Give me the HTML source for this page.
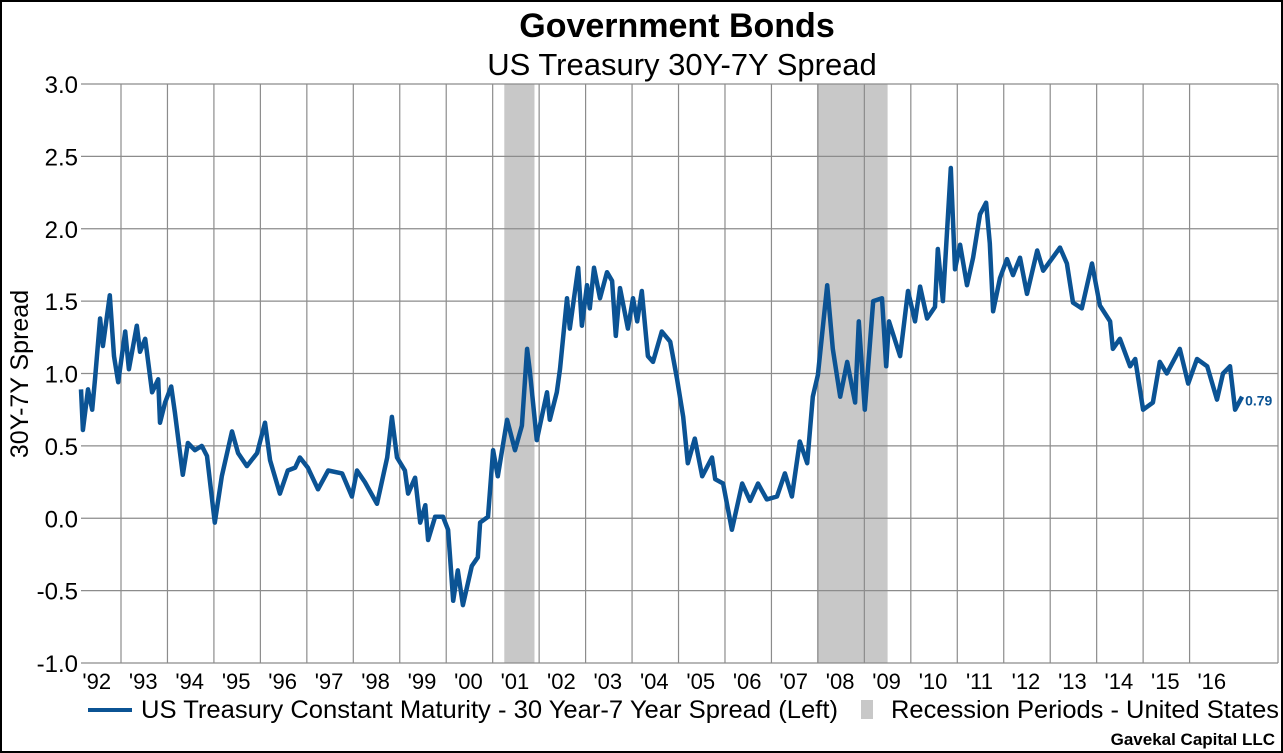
<!DOCTYPE html>
<html><head><meta charset="utf-8"><style>
html,body{margin:0;padding:0;background:#fff}
body{width:1283px;height:753px;overflow:hidden;position:relative;font-family:"Liberation Sans",Arial,sans-serif}
.frame{position:absolute;left:0;top:0;width:1279px;height:749px;border:2px solid #000}
</style></head><body>
<div class="frame"></div>
<svg id="chart" width="1283" height="753" style="position:absolute;left:0;top:0">
<text x="677" y="37" text-anchor="middle" font-size="34" font-weight="bold">Government Bonds</text>
<text x="682" y="75" text-anchor="middle" font-size="31">US Treasury 30Y-7Y Spread</text>
<text transform="translate(28,374) rotate(-90)" text-anchor="middle" font-size="25">30Y-7Y Spread</text>
<g id="rec"></g><g id="grid"></g><g id="yticks"></g><g id="xticks"></g><g id="series"></g>
<line x1="88" y1="710" x2="132" y2="710" stroke="#0b5394" stroke-width="4"/>
<text x="141" y="718" font-size="25" textLength="697" lengthAdjust="spacingAndGlyphs">US Treasury Constant Maturity - 30 Year-7 Year Spread (Left)</text>
<rect x="861" y="700" width="12" height="19" fill="#c8c8c8"/>
<text x="891" y="718" font-size="25" textLength="388" lengthAdjust="spacingAndGlyphs">Recession Periods - United States</text>
<text x="1275" y="745" text-anchor="end" font-size="17" font-weight="bold">Gavekal Capital LLC</text>
</svg>
<script>
const years=[1992.14,1992.18,1992.29,1992.38,1992.44,1992.55,1992.61,1992.76,1992.85,1992.94,1993.09,1993.17,1993.34,1993.41,1993.52,1993.67,1993.80,1993.84,1993.95,1994.08,1994.16,1994.33,1994.44,1994.59,1994.74,1994.85,1995.02,1995.17,1995.39,1995.52,1995.71,1995.93,1996.10,1996.21,1996.42,1996.59,1996.75,1996.85,1997.02,1997.24,1997.46,1997.76,1997.97,1998.08,1998.25,1998.51,1998.73,1998.83,1998.94,1999.11,1999.18,1999.33,1999.44,1999.55,1999.61,1999.76,1999.93,2000.04,2000.15,2000.25,2000.36,2000.55,2000.68,2000.73,2000.90,2001.01,2001.11,2001.31,2001.48,2001.63,2001.74,2001.80,2001.95,2002.17,2002.23,2002.38,2002.45,2002.60,2002.66,2002.84,2002.92,2003.03,2003.09,2003.18,2003.31,2003.46,2003.57,2003.65,2003.74,2003.91,2004.02,2004.11,2004.21,2004.34,2004.45,2004.64,2004.82,2004.97,2005.10,2005.20,2005.35,2005.51,2005.72,2005.79,2005.96,2006.15,2006.37,2006.54,2006.71,2006.90,2007.12,2007.29,2007.44,2007.61,2007.77,2007.89,2008.00,2008.20,2008.32,2008.48,2008.63,2008.80,2008.88,2009.01,2009.19,2009.38,2009.47,2009.53,2009.77,2009.94,2010.09,2010.20,2010.35,2010.52,2010.58,2010.69,2010.86,2010.95,2011.06,2011.21,2011.34,2011.49,2011.62,2011.70,2011.77,2011.92,2012.07,2012.20,2012.35,2012.50,2012.72,2012.85,2013.21,2013.36,2013.49,2013.68,2013.90,2014.07,2014.29,2014.35,2014.50,2014.72,2014.83,2015.00,2015.21,2015.36,2015.51,2015.79,2015.97,2016.16,2016.38,2016.59,2016.72,2016.87,2016.98,2017.13];
const spread=[0.89,0.61,0.89,0.75,0.96,1.38,1.19,1.54,1.12,0.94,1.29,1.03,1.33,1.15,1.24,0.87,0.96,0.66,0.80,0.91,0.73,0.30,0.52,0.47,0.50,0.43,-0.03,0.29,0.60,0.45,0.36,0.45,0.66,0.40,0.17,0.33,0.35,0.42,0.35,0.20,0.33,0.31,0.15,0.33,0.25,0.10,0.42,0.70,0.42,0.33,0.17,0.28,-0.03,0.09,-0.15,0.01,0.01,-0.08,-0.57,-0.36,-0.60,-0.33,-0.27,-0.03,0.01,0.47,0.29,0.68,0.47,0.64,1.17,1.02,0.54,0.87,0.68,0.87,1.03,1.52,1.31,1.73,1.33,1.61,1.45,1.73,1.52,1.70,1.64,1.26,1.59,1.31,1.52,1.36,1.57,1.12,1.08,1.29,1.22,0.96,0.70,0.38,0.55,0.29,0.42,0.27,0.24,-0.08,0.24,0.12,0.24,0.13,0.15,0.31,0.15,0.53,0.38,0.84,0.99,1.61,1.17,0.84,1.08,0.80,1.36,0.75,1.50,1.52,1.05,1.36,1.12,1.57,1.36,1.60,1.38,1.46,1.86,1.50,2.42,1.72,1.89,1.61,1.80,2.10,2.18,1.90,1.43,1.66,1.79,1.68,1.80,1.55,1.85,1.71,1.87,1.76,1.49,1.45,1.76,1.47,1.36,1.17,1.24,1.05,1.10,0.75,0.80,1.08,1.00,1.17,0.93,1.10,1.05,0.82,1.00,1.05,0.75,0.84];
const recStart=[2001.25,2007.98];
const recEnd=[2001.90,2009.50];
const yTicks=[3.0,2.5,2.0,1.5,1.0,0.5,0.0,-0.5,-1.0];
const xYears=[1992,1993,1994,1995,1996,1997,1998,1999,2000,2001,2002,2003,2004,2005,2006,2007,2008,2009,2010,2011,2012,2013,2014,2015,2016];
const xLabels=["'92","'93","'94","'95","'96","'97","'98","'99","'00","'01","'02","'03","'04","'05","'06","'07","'08","'09","'10","'11","'12","'13","'14","'15","'16"];
const lastLabel="0.79";

const L=81,R=1278,T=84,B=663;
const xs=y=>121+(y-1993)*46.46;
const ys=v=>T+(3-v)*(B-T)/4;
const NS="http://www.w3.org/2000/svg";
function mk(tag,parent,attrs){const e=document.createElementNS(NS,tag);for(const k in attrs)e.setAttribute(k,attrs[k]);document.getElementById(parent).appendChild(e);return e;}

recStart.forEach((s,i)=>{
  const r=mk('rect','rec',{x:xs(s),y:T,width:xs(recEnd[i])-xs(s),height:B-T,fill:'#c8c8c8'});
  
  
});
yTicks.forEach(v=>{
  const l=mk('line','grid',{x1:L,x2:R,y1:ys(v),y2:ys(v),stroke:'#8c8c8c','stroke-width':1.2});
  
  
  const t=mk('text','yticks',{x:78,y:ys(v)+9,'text-anchor':'end','font-size':24});
  t.textContent=v.toFixed(1);
  
  
});
xYears.forEach((yr,i)=>{
  if(yr>1992){
    const l=mk('line','grid',{x1:xs(yr),x2:xs(yr),y1:T,y2:B,stroke:'#8c8c8c','stroke-width':1.2});
    
    
  }
  const t=mk('text','xticks',{x:xs(yr+0.5)-1,y:689,'text-anchor':'middle','font-size':22});
  t.textContent=xLabels[i];
  
  
});
const right=mk('line','grid',{x1:R,x2:R,y1:T,y2:B,stroke:'#8c8c8c','stroke-width':1.2});


const d=years.map((y,i)=>(i?'L':'M')+xs(y).toFixed(1)+','+ys(spread[i]).toFixed(1)).join('');
const p=mk('path','series',{d:d,fill:'none',stroke:'#0b5394','stroke-width':4.5,'stroke-linejoin':'round'});


const lt=mk('text','series',{x:xs(years[years.length-1])+3,y:ys(spread[spread.length-1])+9,'font-size':14,'font-weight':'bold',fill:'#0b5394'});
lt.textContent=lastLabel;


</script>
</body></html>
